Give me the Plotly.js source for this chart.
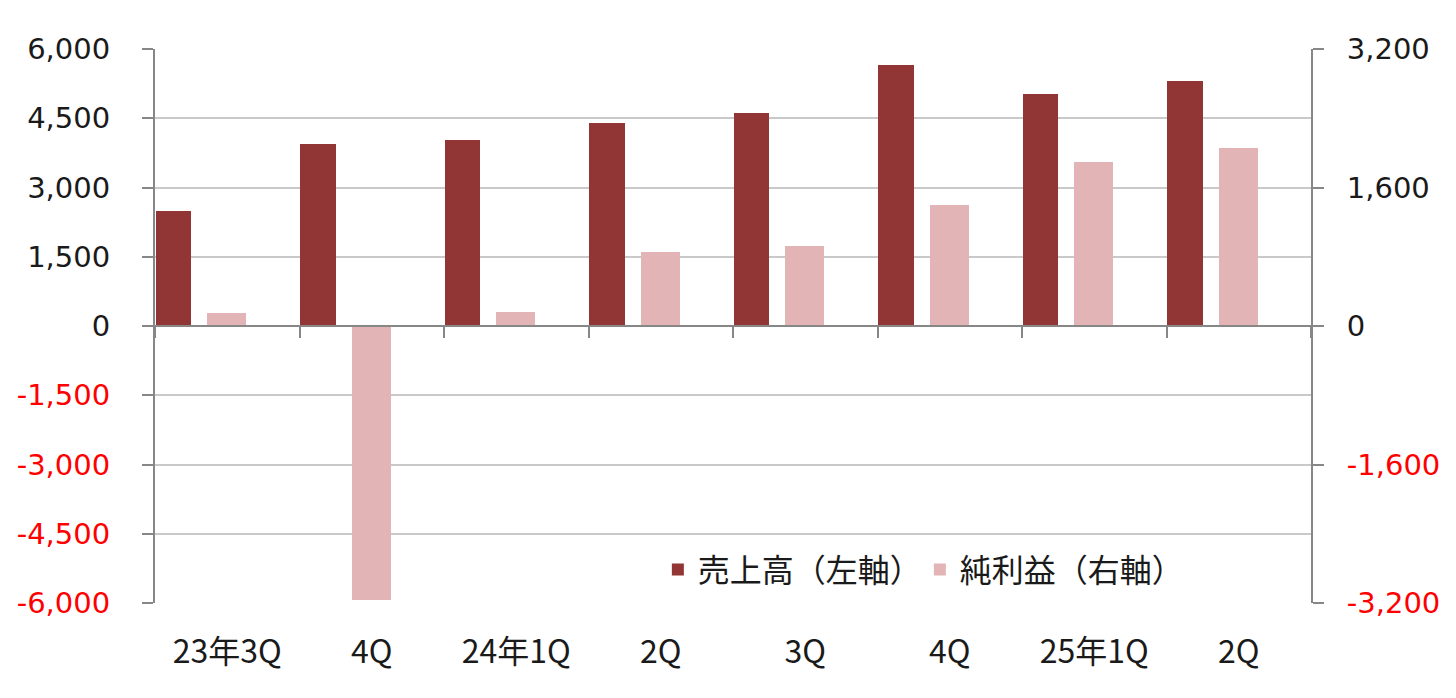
<!DOCTYPE html>
<html>
<head>
<meta charset="utf-8">
<script src="https://cdn.plot.ly/plotly-3.0.1.min.js"></script>
<style>
html,body{margin:0;padding:0;background:#fff;}
#chart{width:1456px;height:698px;}
</style>
</head>
<body>
<div id="chart"></div>
<script>
// ---- data ----
const categories = ["23年3Q", "4Q", "24年1Q", "2Q", "3Q", "4Q", "25年1Q", "2Q"];
const revenue = [2490, 3950, 4030, 4405, 4615, 5655, 5015, 5315];   // 売上高（左軸）
const netProfit = [153, -3160, 165, 853, 920, 1397, 1900, 2062];      // 純利益（右軸）
const seriesNames = ["売上高（左軸）", "純利益（右軸）"];
const leftTicks = [-6000, -4500, -3000, -1500, 0, 1500, 3000, 4500, 6000];
const rightTicks = [-3200, -1600, 0, 1600, 3200];

// ---- helpers ----
const fmt = v => {
  const s = Math.abs(v).toLocaleString("en-US");
  return v < 0 ? '<span style="color:#ff0000">-' + s + '</span>' : s;
};
const idx = categories.map((c, i) => i);
const bounds = categories.map((c, i) => i).concat([categories.length]);
const centers = categories.map((c, i) => i + 0.5);

const axisGrey = "#878787";
const gridGrey = "#c9c9c9";
const tickFont = {family: "DejaVu Sans, Verdana, sans-serif", size: 29, color: "#1a1a1a"};
const cjkFont = {family: "Noto Sans CJK JP, sans-serif", size: 32, color: "#1a1a1a"};

const traces = [
  {
    type: "bar", name: seriesNames[0], x: idx, y: revenue,
    offset: 0.005, width: 0.245,
    marker: {color: "#913535", line: {width: 0}},
    xaxis: "x", yaxis: "y"
  },
  {
    type: "bar", name: seriesNames[1], x: idx, y: netProfit,
    offset: 0.36, width: 0.27,
    marker: {color: "#e2b4b5", line: {width: 0}},
    xaxis: "x2", yaxis: "y2"
  }
];

const layout = {
  width: 1456, height: 698,
  margin: {l: 155, r: 145, t: 49, b: 95},
  paper_bgcolor: "#ffffff", plot_bgcolor: "#ffffff",
  showlegend: true,
  legend: {
    orientation: "h", x: 0.435, y: 0.06, xanchor: "left", yanchor: "middle",
    font: {family: "Noto Sans CJK JP, sans-serif", size: 32, color: "#1a1a1a"},
    entrywidth: 217, entrywidthmode: "pixels",
    bgcolor: "rgba(0,0,0,0)", traceorder: "normal"
  },
  xaxis: {
    range: [0, categories.length], anchor: "free", position: 0.5,
    tickmode: "array", tickvals: bounds, showticklabels: false,
    ticks: "outside", ticklen: 11, tickwidth: 2, tickcolor: axisGrey,
    showline: true, linecolor: axisGrey, linewidth: 2,
    showgrid: false, zeroline: false, fixedrange: true
  },
  xaxis2: {
    overlaying: "x", anchor: "y2", side: "bottom",
    range: [0, categories.length],
    tickmode: "array", tickvals: centers, ticktext: categories,
    ticks: "", showline: false, showgrid: false, zeroline: false,
    tickfont: cjkFont, ticklabelstandoff: 27, fixedrange: true
  },
  yaxis: {
    range: [-6000, 6000],
    tickmode: "array", tickvals: leftTicks, ticktext: leftTicks.map(fmt),
    tickfont: tickFont, ticklabelstandoff: 26,
    ticks: "outside", ticklen: 11, tickwidth: 2, tickcolor: axisGrey,
    showline: true, linecolor: axisGrey, linewidth: 2,
    showgrid: true, gridcolor: gridGrey, gridwidth: 2,
    zeroline: false, fixedrange: true
  },
  yaxis2: {
    overlaying: "y", side: "right", anchor: "x2",
    range: [-3200, 3200],
    tickmode: "array", tickvals: rightTicks, ticktext: rightTicks.map(fmt),
    tickfont: tickFont, ticklabelstandoff: 17,
    ticks: "outside", ticklen: 11, tickwidth: 2, tickcolor: axisGrey,
    showline: true, linecolor: axisGrey, linewidth: 2,
    showgrid: false, zeroline: false, fixedrange: true
  },
  bargap: 0
};

Plotly.newPlot("chart", traces, layout, {displayModeBar: false, staticPlot: true});
</script>
</body>
</html>
